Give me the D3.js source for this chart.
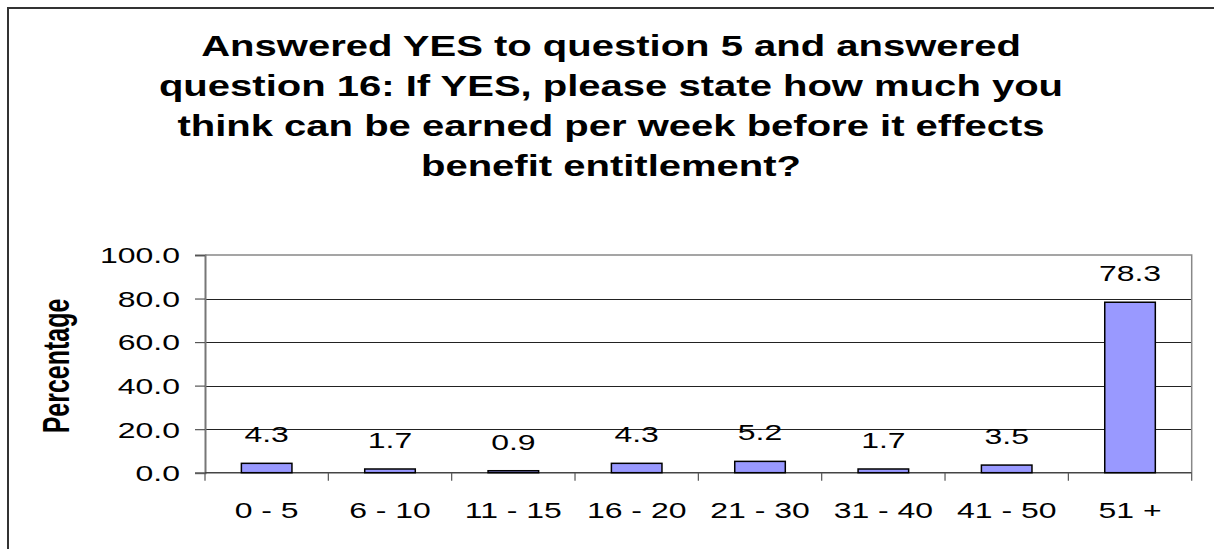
<!DOCTYPE html>
<html>
<head>
<meta charset="utf-8">
<script src="https://cdn.jsdelivr.net/npm/d3@7"></script>
<style>
  html, body { margin: 0; padding: 0; background: #fff; }
  text { font-family: "Liberation Sans", Arial, sans-serif; fill: #000; }
</style>
</head>
<body>
<svg id="chart" width="1214" height="549"></svg>
<script>
const categories = ["0 - 5", "6 - 10", "11 - 15", "16 - 20", "21 - 30", "31 - 40", "41 - 50", "51 +"];
const values = [4.3, 1.7, 0.9, 4.3, 5.2, 1.7, 3.5, 78.3];
const yTicks = [0, 20, 40, 60, 80, 100];
const titleLines = [
  "Answered YES to question 5 and answered",
  "question 16: If YES, please state how much you",
  "think can be earned per week before it effects",
  "benefit entitlement?"
];
const yLabel = "Percentage";

// the original picture is stretched sideways, so text gets a horizontal scale
const k = 1.42;

const svg = d3.select('#chart');
const margin = { left: 205, right: 1214 - 1191.7, top: 255, bottom: 549 - 472.7 };
const width = 1214, height = 549;

// outer chart border (runs off the right and bottom)
svg.append("rect")
  .attr("x", 8).attr("y", 8)
  .attr("width", 1230).attr("height", 560)
  .attr("fill", "none")
  .attr("stroke", "#333")
  .attr("stroke-width", 2);

const x = d3.scaleBand()
  .domain(categories)
  .range([margin.left, width - margin.right])
  .padding(0);

const y = d3.scaleLinear()
  .domain([0, 100])
  .range([height - margin.bottom, margin.top]);

const stretched = (sel, px, py, anchor, sx = k) => sel
  .attr("x", 0).attr("y", 0)
  .attr("text-anchor", anchor)
  .attr("transform", `translate(${px},${py}) scale(${sx},1)`);

// title
const title = svg.append("g");
titleLines.forEach((line, i) => {
  title.append("text")
    .text(line)
    .style("font-size", "29px")
    .style("font-weight", "bold")
    .call(stretched, 611, 56 + i * 40, "middle", 1.38);
});

// gridlines
svg.append("g")
  .selectAll("line")
  .data(yTicks.filter(d => d > 0 && d < 100))
  .join("line")
  .attr("x1", margin.left).attr("x2", width - margin.right)
  .attr("y1", d => Math.round(y(d)) + 0.5).attr("y2", d => Math.round(y(d)) + 0.5)
  .attr("stroke", "#222")
  .attr("stroke-width", 1);

// plot border top / right
svg.append("path")
  .attr("d", `M${margin.left},${y(100)}H${width - margin.right}V${y(0)}`)
  .attr("fill", "none")
  .attr("stroke", "#888")
  .attr("stroke-width", 1.5);

// y axis
const yAxis = svg.append("g")
  .attr("transform", `translate(${margin.left},0)`)
  .call(d3.axisLeft(y).tickValues(yTicks).tickFormat(d3.format(".1f")).tickSize(10).tickPadding(15));
yAxis.select(".domain").attr("stroke", "#777").attr("stroke-width", 2);
yAxis.selectAll(".tick line").attr("stroke", "#555").attr("stroke-width", 1.2);
yAxis.selectAll(".tick text")
  .style("font-size", "22.5px")
  .attr("dy", "0.35em")
  .attr("transform", function() {
    const xx = +d3.select(this).attr("x");
    d3.select(this).attr("x", 0);
    return `translate(${xx},0) scale(${k},1)`;
  });

// x axis: ticks at category boundaries
const bounds = categories.map(c => x(c)).concat([x(categories[categories.length - 1]) + x.bandwidth()]);
svg.append("line")
  .attr("x1", margin.left).attr("x2", width - margin.right)
  .attr("y1", y(0)).attr("y2", y(0))
  .attr("stroke", "#444").attr("stroke-width", 1.5);
svg.append("g")
  .selectAll("line")
  .data(bounds)
  .join("line")
  .attr("x1", d => d).attr("x2", d => d)
  .attr("y1", y(0)).attr("y2", y(0) + 8)
  .attr("stroke", "#555").attr("stroke-width", 1.2);

svg.append("g")
  .selectAll("text")
  .data(categories)
  .join("text")
  .text(d => d)
  .style("font-size", "22.5px")
  .each(function(d) {
    d3.select(this).call(stretched, x(d) + x.bandwidth() / 2, 518, "middle");
  });

// bars
const barW = x.bandwidth() * 0.41;
svg.append("g")
  .selectAll("rect")
  .data(values)
  .join("rect")
  .attr("x", (d, i) => x(categories[i]) + (x.bandwidth() - barW) / 2)
  .attr("y", d => y(d))
  .attr("width", barW)
  .attr("height", d => y(0) - y(d))
  .attr("fill", "#9999ff")
  .attr("stroke", "#000")
  .attr("stroke-width", 1.5);

// value labels
svg.append("g")
  .selectAll("text")
  .data(values)
  .join("text")
  .text(d => d3.format(".1f")(d))
  .style("font-size", "22.5px")
  .each(function(d, i) {
    d3.select(this).call(stretched, x(categories[i]) + x.bandwidth() / 2, y(d) - 21, "middle");
  });

// y axis label
svg.append("text")
  .text(yLabel)
  .style("font-size", "25px")
  .style("font-weight", "bold")
  .attr("text-anchor", "middle")
  .attr("x", 0).attr("y", 0)
  .attr("transform", `translate(69,366) scale(1.45,1) rotate(-90)`);
</script>
</body>
</html>
